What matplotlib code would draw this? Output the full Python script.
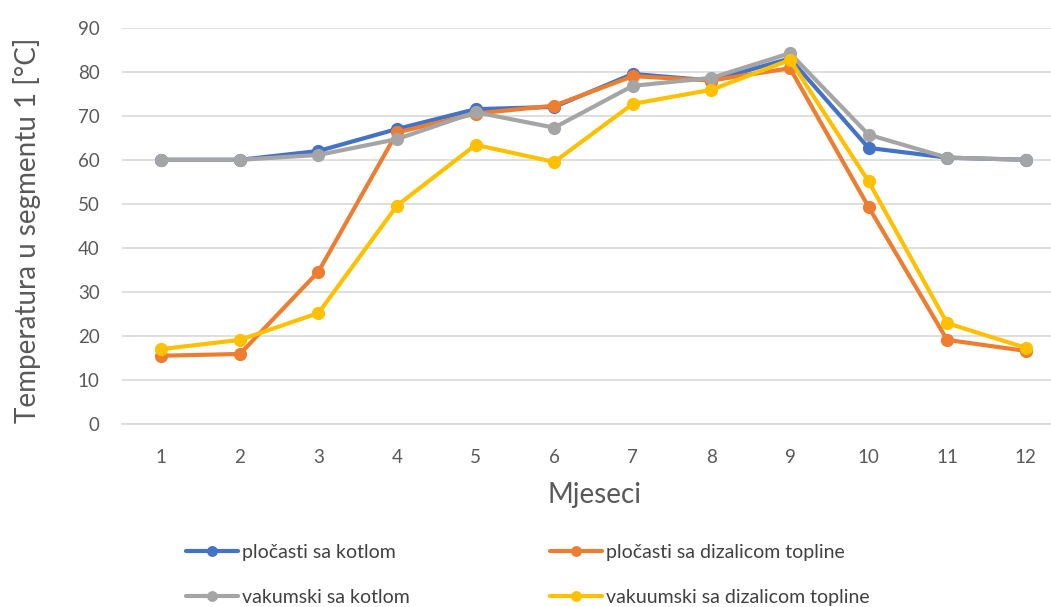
import matplotlib.pyplot as plt
from matplotlib.ticker import MultipleLocator

# Data
months = [1, 2, 3, 4, 5, 6, 7, 8, 9, 10, 11, 12]
plocasti_kotao = [60, 60, 62, 67, 71.5, 72, 79.5, 78, 83, 62.7, 60.5, 60]
plocasti_dizalica = [15.5, 15.9, 34.6, 66.2, 70.5, 72.3, 79, 78, 80.8, 49.3, 19.1, 16.6]
vakumski_kotao = [60, 60, 61.1, 64.7, 70.8, 67.3, 76.8, 78.6, 84.2, 65.7, 60.5, 60]
vakuumski_dizalica = [17, 19.1, 25.2, 49.6, 63.4, 59.5, 72.7, 75.9, 82.7, 55.1, 22.9, 17.3]

labels = ['pločasti sa kotlom', 'pločasti sa dizalicom topline',
          'vakumski sa kotlom', 'vakuumski sa dizalicom topline']
colors = ['#4472C4', '#ED7D31', '#A5A5A5', '#FFC000']

plt.rcParams['font.family'] = ['Lato', 'DejaVu Sans']

fig = plt.figure(figsize=(10.51, 6.07), dpi=100)
ax = fig.add_axes([122 / 1051, 1 - 424 / 607, (1065 - 122) / 1051, (424 - 27.7) / 607])

lines = []
for series, lab, col in zip([plocasti_kotao, plocasti_dizalica, vakumski_kotao, vakuumski_dizalica], labels, colors):
    ln, = ax.plot(months, series, color=col, linewidth=3.0, marker='o', markersize=8.5,
                  label=lab, solid_joinstyle='round', solid_capstyle='round')
    lines.append(ln)

ax.set_xlim(0.5, 12.5)
ax.set_ylim(0, 90)
ax.yaxis.set_major_locator(MultipleLocator(10))
ax.set_xticks(months)
ax.grid(axis='y', color='#d9d9d9', linewidth=1.2)
ax.set_axisbelow(True)
for s in ['top', 'right', 'left']:
    ax.spines[s].set_visible(False)
ax.spines['bottom'].set_color('#d9d9d9')
ax.spines['bottom'].set_linewidth(1.2)
ax.tick_params(axis='both', length=0, labelsize=13.5, labelcolor='#595959')
ax.tick_params(axis='x', pad=18)
ax.tick_params(axis='y', pad=16)

fig.text(27 / 1051, 1 - 230 / 607, 'Temperatura u segmentu 1 [°C]', rotation=90,
         ha='center', va='center', fontsize=20, color='#595959')
fig.text(594 / 1051, 1 - 495 / 607, 'Mjeseci', ha='center', va='center', fontsize=20, color='#595959')

order = [0, 2, 1, 3]
leg = fig.legend([lines[i] for i in order], [labels[i] for i in order], ncol=2,
                 loc='upper left', bbox_to_anchor=(178 / 1051, 1 - 536 / 607),
                 frameon=False, fontsize=14, handlelength=2.7, handletextpad=0.2,
                 columnspacing=7.2, labelspacing=1.45, borderaxespad=0, markerscale=0.8)
for t in leg.get_texts():
    t.set_color('#404040')

fig.savefig('out.png', dpi=100)
